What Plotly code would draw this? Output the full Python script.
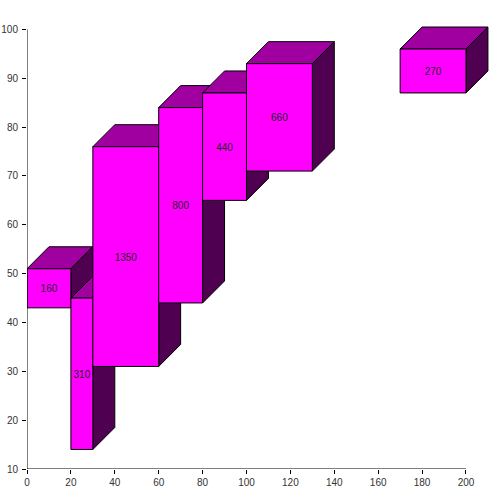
import plotly.graph_objects as go

labels = ["160", "310", "1350", "800", "440", "660", "270"]
x_start = [0, 20, 30, 60, 80, 100, 170]
x_end = [20, 30, 60, 80, 100, 130, 200]
y_low = [43, 14, 31, 44, 65, 71, 87]
y_high = [51, 45, 76, 84, 87, 93, 96]
x_ticks = list(range(0, 201, 20))
y_ticks = list(range(10, 101, 10))

DEPTH_X = 10
DEPTH_Y = 4.5
LABEL_DROP = 0.3
FRONT = "#FF00FF"
TOP = "#A000A0"
SIDE = "#500050"
TEXT = "#222222"

# Pixel scale of the reference: 2.1975 px per x unit, 4.889 px per y unit.
# The axis ranges run on past the last tick so the 3D depth is not clipped.
X_MAX = 215.5
Y_MAX = 106.03

fig = go.Figure()


def poly(xs, ys, color):
    fig.add_trace(go.Scatter(
        x=xs, y=ys, mode="lines", fill="toself", fillcolor=color,
        line=dict(color="black", width=1),
        hoverinfo="skip", showlegend=False))


for i in [6, 0, 1, 2, 3, 4, 5]:
    a, b, lo, hi = x_start[i], x_end[i], y_low[i], y_high[i]
    poly([a, a + DEPTH_X, b + DEPTH_X, b, a],
         [hi, hi + DEPTH_Y, hi + DEPTH_Y, hi, hi], TOP)
    poly([b, b + DEPTH_X, b + DEPTH_X, b, b],
         [lo, lo + DEPTH_Y, hi + DEPTH_Y, hi, lo], SIDE)
    poly([a, b, b, a, a], [lo, lo, hi, hi, lo], FRONT)

fig.add_trace(go.Scatter(
    x=[(a + b) / 2 for a, b in zip(x_start, x_end)],
    y=[(a + b) / 2 - LABEL_DROP for a, b in zip(y_low, y_high)],
    text=labels, mode="text",
    textfont=dict(family="Liberation Sans", size=10, color=TEXT),
    hoverinfo="skip", showlegend=False))

# Axis lines stop at the last tick, as in the reference.
fig.add_trace(go.Scatter(
    x=[x_ticks[0], x_ticks[0], x_ticks[-1]],
    y=[y_ticks[-1], y_ticks[0], y_ticks[0]],
    mode="lines", line=dict(color="black", width=1), cliponaxis=False,
    hoverinfo="skip", showlegend=False))

axis = dict(showgrid=False, zeroline=False, showline=False, automargin=False,
            ticks="outside", ticklen=4, tickcolor="black",
            tickfont=dict(family="Liberation Sans", size=10, color="#333333"))

fig.update_layout(
    width=500, height=503, autosize=False,
    paper_bgcolor="white", plot_bgcolor="rgba(0,0,0,0)",
    margin=dict(l=26.5, r=0, t=0, b=33.5),
    xaxis=dict(range=[0, X_MAX], tickvals=x_ticks, **axis),
    yaxis=dict(range=[10, Y_MAX], tickvals=y_ticks, ticklabelstandoff=2, **axis),
)

fig.write_html("out.html", config={"displayModeBar": False},
               post_script="document.body.style.margin='0';")
